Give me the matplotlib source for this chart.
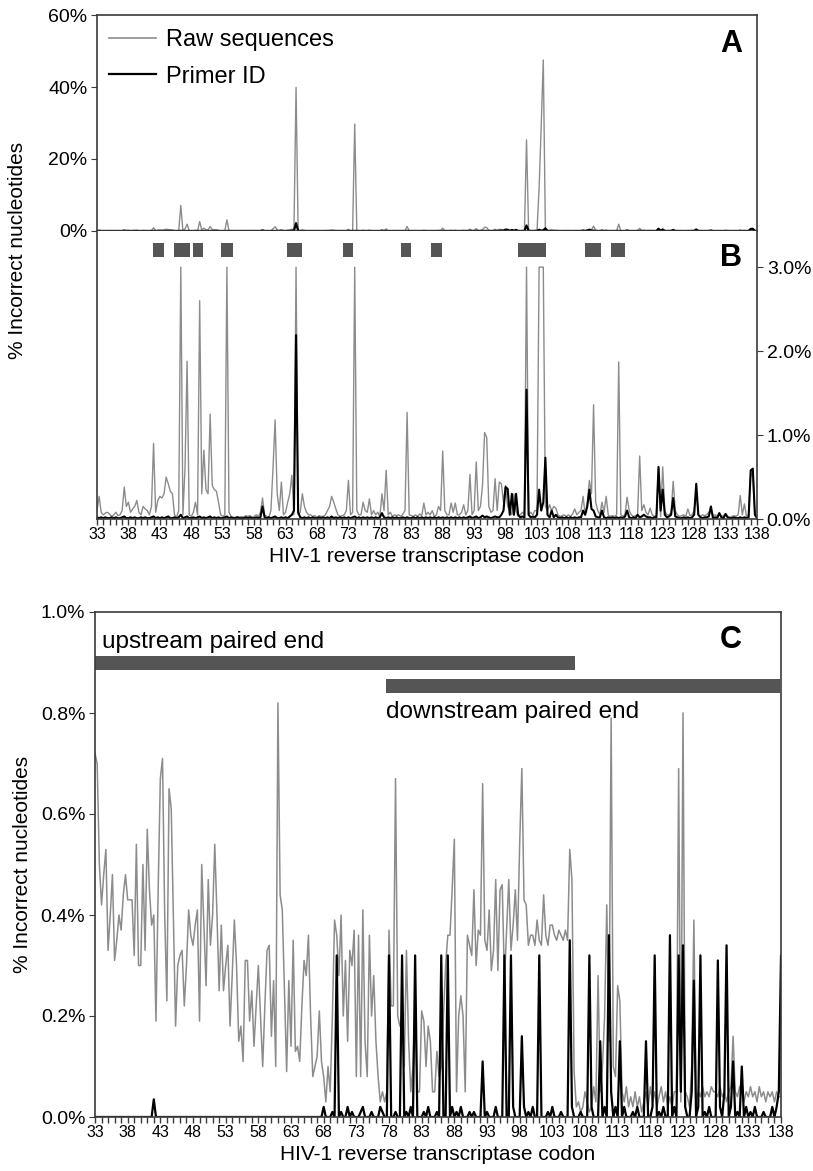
import matplotlib

matplotlib.use("Agg")
import matplotlib.pyplot as plt
import numpy as np
from matplotlib.lines import Line2D

plt.rcParams["font.family"] = ["Liberation Sans", "DejaVu Sans"]

FIRST_CODON = 33
LAST_CODON = 138
CODONS = list(range(FIRST_CODON, LAST_CODON + 1))
LABEL_CODONS = list(range(33, 139, 5))

# panels A/B: % incorrect nucleotides per nucleotide position (3 per codon, codons 33..138)
RAW_AB = [
    0.10, 0.27, 0.08, 0.05, 0.07, 0.08, 0.06, 0.03, 0.05, 0.08, 0.04, 0.05, 0.10, 0.38, 0.15,  # 33
    0.20, 0.08, 0.12, 0.15, 0.22, 0.08, 0.05, 0.15, 0.12, 0.10, 0.05, 0.15, 0.90, 0.08, 0.22,  # 38
    0.27, 0.25, 0.30, 0.50, 0.42, 0.33, 0.30, 0.05, 0.02, 0.10, 7.10, 0.05, 0.60, 1.88, 0.05,  # 43
    0.03, 0.08, 0.20, 0.05, 2.60, 0.30, 0.82, 0.35, 0.30, 1.25, 0.40, 0.35, 0.33, 0.20, 0.05,  # 48
    0.03, 0.05, 3.10, 0.08, 0.03, 0.02, 0.02, 0.03, 0.02, 0.03, 0.02, 0.04, 0.03, 0.04, 0.02,  # 53
    0.03, 0.05, 0.03, 0.08, 0.25, 0.05, 0.03, 0.02, 0.10, 0.60, 1.18, 0.30, 0.10, 0.44, 0.05,  # 58
    0.08, 0.20, 0.30, 0.52, 0.05, 39.90, 0.05, 0.08, 0.30, 0.15, 0.08, 0.05, 0.05, 0.03, 0.04,  # 63
    0.02, 0.04, 0.03, 0.03, 0.05, 0.10, 0.15, 0.27, 0.20, 0.12, 0.05, 0.03, 0.04, 0.05, 0.10,  # 68
    0.46, 0.05, 0.08, 29.70, 0.10, 0.05, 0.05, 0.20, 0.10, 0.08, 0.24, 0.05, 0.10, 0.05, 0.08,  # 73
    0.03, 0.30, 0.10, 0.58, 0.05, 0.08, 0.03, 0.05, 0.04, 0.05, 0.03, 0.06, 0.10, 1.27, 0.05,  # 78
    0.04, 0.03, 0.05, 0.03, 0.06, 0.04, 0.19, 0.05, 0.08, 0.05, 0.10, 0.03, 0.05, 0.15, 0.10,  # 83
    0.81, 0.10, 0.05, 0.05, 0.19, 0.08, 0.19, 0.05, 0.05, 0.08, 0.17, 0.05, 0.10, 0.53, 0.05,  # 88
    0.10, 0.68, 0.10, 0.15, 0.40, 1.03, 0.97, 0.15, 0.08, 0.10, 0.48, 0.10, 0.44, 0.42, 0.20,  # 93
    0.40, 0.15, 0.10, 0.05, 0.30, 0.10, 0.03, 0.05, 0.08, 0.05, 25.30, 0.05, 0.08, 0.05, 0.10,  # 98
    0.10, 11.90, 29.00, 47.50, 0.15, 0.10, 0.17, 0.10, 0.15, 0.13, 0.05, 0.03, 0.04, 0.05, 0.03,  # 103
    0.05, 0.03, 0.06, 0.12, 0.05, 0.08, 0.10, 0.27, 0.05, 0.20, 0.46, 0.30, 1.36, 0.20, 0.10,  # 108
    0.05, 0.20, 0.08, 0.27, 0.05, 0.03, 0.04, 0.03, 0.05, 1.87, 0.05, 0.03, 0.05, 0.26, 0.10,  # 113
    0.05, 0.03, 0.04, 0.05, 0.75, 0.10, 0.17, 0.08, 0.05, 0.13, 0.05, 0.03, 0.05, 0.62, 0.03,  # 118
    0.62, 0.10, 0.05, 0.05, 0.08, 0.45, 0.10, 0.05, 0.03, 0.04, 0.05, 0.03, 0.12, 0.04, 0.05,  # 123
    0.10, 0.35, 0.05, 0.03, 0.05, 0.04, 0.05, 0.08, 0.10, 0.04, 0.05, 0.03, 0.07, 0.03, 0.04,  # 128
    0.06, 0.03, 0.02, 0.03, 0.04, 0.03, 0.05, 0.28, 0.05, 0.18, 0.03, 0.05, 0.55, 0.50, 0.05,  # 133
    0.02, 0.03, 0.02,  # 138
]
PID_AB = [
    0.02, 0.01, 0.02, 0.01, 0.02, 0.01, 0.01, 0.02, 0.01, 0.02, 0.01, 0.01, 0.02, 0.03, 0.01,  # 33
    0.01, 0.02, 0.01, 0.02, 0.01, 0.01, 0.02, 0.01, 0.02, 0.01, 0.01, 0.02, 0.03, 0.01, 0.02,  # 38
    0.01, 0.02, 0.01, 0.02, 0.03, 0.01, 0.01, 0.02, 0.01, 0.02, 0.05, 0.01, 0.02, 0.03, 0.01,  # 43
    0.01, 0.02, 0.01, 0.02, 0.03, 0.01, 0.02, 0.01, 0.02, 0.03, 0.01, 0.02, 0.01, 0.02, 0.01,  # 48
    0.01, 0.02, 0.03, 0.01, 0.02, 0.01, 0.01, 0.02, 0.01, 0.01, 0.01, 0.02, 0.01, 0.02, 0.01,  # 53
    0.01, 0.02, 0.01, 0.02, 0.15, 0.02, 0.01, 0.02, 0.01, 0.02, 0.03, 0.01, 0.01, 0.02, 0.01,  # 58
    0.02, 0.01, 0.03, 0.05, 0.10, 2.19, 0.08, 0.02, 0.01, 0.02, 0.01, 0.02, 0.01, 0.02, 0.01,  # 63
    0.01, 0.02, 0.01, 0.02, 0.01, 0.02, 0.01, 0.03, 0.01, 0.02, 0.01, 0.02, 0.01, 0.02, 0.01,  # 68
    0.02, 0.01, 0.02, 0.03, 0.01, 0.02, 0.01, 0.02, 0.01, 0.02, 0.01, 0.02, 0.01, 0.02, 0.01,  # 73
    0.02, 0.07, 0.02, 0.01, 0.02, 0.01, 0.02, 0.01, 0.02, 0.01, 0.01, 0.02, 0.01, 0.02, 0.01,  # 78
    0.01, 0.02, 0.01, 0.02, 0.01, 0.02, 0.01, 0.02, 0.01, 0.02, 0.01, 0.02, 0.01, 0.02, 0.01,  # 83
    0.02, 0.01, 0.02, 0.01, 0.02, 0.01, 0.02, 0.01, 0.02, 0.01, 0.02, 0.01, 0.02, 0.03, 0.01,  # 88
    0.02, 0.03, 0.01, 0.02, 0.04, 0.02, 0.03, 0.02, 0.01, 0.02, 0.03, 0.02, 0.02, 0.05, 0.10,  # 93
    0.38, 0.36, 0.05, 0.30, 0.05, 0.30, 0.05, 0.02, 0.03, 0.02, 1.54, 0.05, 0.02, 0.03, 0.02,  # 98
    0.05, 0.35, 0.10, 0.20, 0.73, 0.05, 0.02, 0.10, 0.02, 0.05, 0.02, 0.01, 0.02, 0.01, 0.02,  # 103
    0.01, 0.02, 0.01, 0.02, 0.01, 0.02, 0.02, 0.10, 0.05, 0.15, 0.35, 0.12, 0.10, 0.03, 0.02,  # 108
    0.02, 0.10, 0.02, 0.01, 0.02, 0.01, 0.02, 0.01, 0.02, 0.01, 0.02, 0.01, 0.03, 0.10, 0.02,  # 113
    0.01, 0.02, 0.01, 0.05, 0.02, 0.03, 0.05, 0.03, 0.02, 0.02, 0.01, 0.02, 0.02, 0.62, 0.10,  # 118
    0.35, 0.05, 0.02, 0.03, 0.05, 0.25, 0.03, 0.02, 0.01, 0.01, 0.02, 0.01, 0.02, 0.01, 0.02,  # 123
    0.05, 0.42, 0.05, 0.02, 0.01, 0.02, 0.02, 0.03, 0.15, 0.01, 0.02, 0.01, 0.07, 0.02, 0.01,  # 128
    0.06, 0.02, 0.01, 0.01, 0.02, 0.01, 0.01, 0.02, 0.01, 0.02, 0.01, 0.02, 0.58, 0.60, 0.05,  # 133
    0.01, 0.01, 0.01,  # 138
]

# panel C
RAW_C = [
    0.72, 0.70, 0.50, 0.42, 0.48, 0.53, 0.33, 0.40, 0.48, 0.31, 0.35, 0.40, 0.37, 0.44, 0.48,  # 33
    0.43, 0.43, 0.43, 0.32, 0.54, 0.30, 0.30, 0.50, 0.33, 0.57, 0.45, 0.38, 0.40, 0.19, 0.45,  # 38
    0.67, 0.71, 0.40, 0.23, 0.65, 0.61, 0.40, 0.18, 0.30, 0.32, 0.33, 0.22, 0.30, 0.41, 0.36,  # 43
    0.34, 0.38, 0.41, 0.19, 0.50, 0.38, 0.26, 0.47, 0.34, 0.40, 0.54, 0.40, 0.25, 0.38, 0.25,  # 48
    0.30, 0.34, 0.18, 0.28, 0.39, 0.30, 0.15, 0.18, 0.11, 0.31, 0.31, 0.19, 0.25, 0.14, 0.22,  # 53
    0.30, 0.20, 0.10, 0.22, 0.33, 0.34, 0.16, 0.27, 0.10, 0.82, 0.44, 0.41, 0.25, 0.09, 0.27,  # 58
    0.14, 0.35, 0.13, 0.14, 0.11, 0.22, 0.31, 0.28, 0.36, 0.20, 0.08, 0.10, 0.12, 0.21, 0.11,  # 63
    0.08, 0.03, 0.10, 0.05, 0.20, 0.39, 0.36, 0.28, 0.40, 0.20, 0.31, 0.15, 0.33, 0.30, 0.37,  # 68
    0.08, 0.36, 0.08, 0.41, 0.15, 0.08, 0.36, 0.20, 0.28, 0.15, 0.08, 0.03, 0.05, 0.03, 0.05,  # 73
    0.37, 0.22, 0.22, 0.67, 0.20, 0.18, 0.18, 0.10, 0.33, 0.15, 0.05, 0.10, 0.23, 0.05, 0.05,  # 78
    0.21, 0.19, 0.10, 0.18, 0.15, 0.05, 0.05, 0.13, 0.08, 0.10, 0.20, 0.30, 0.36, 0.36, 0.45,  # 83
    0.55, 0.05, 0.20, 0.24, 0.20, 0.05, 0.36, 0.34, 0.32, 0.45, 0.30, 0.37, 0.36, 0.66, 0.35,  # 88
    0.33, 0.41, 0.29, 0.33, 0.47, 0.29, 0.45, 0.46, 0.27, 0.37, 0.47, 0.33, 0.38, 0.45, 0.35,  # 93
    0.54, 0.69, 0.43, 0.42, 0.34, 0.36, 0.36, 0.34, 0.39, 0.35, 0.34, 0.44, 0.36, 0.34, 0.38,  # 98
    0.38, 0.36, 0.35, 0.37, 0.36, 0.35, 0.37, 0.35, 0.53, 0.47, 0.09, 0.02, 0.03, 0.01, 0.02,  # 103
    0.05, 0.03, 0.01, 0.02, 0.06, 0.03, 0.28, 0.05, 0.10, 0.20, 0.42, 0.15, 0.79, 0.10, 0.08,  # 108
    0.26, 0.23, 0.05, 0.03, 0.06, 0.02, 0.04, 0.02, 0.05, 0.02, 0.04, 0.01, 0.03, 0.05, 0.02,  # 113
    0.06, 0.03, 0.05, 0.02, 0.04, 0.06, 0.03, 0.05, 0.02, 0.04, 0.02, 0.05, 0.05, 0.69, 0.03,  # 118
    0.80, 0.05, 0.04, 0.02, 0.10, 0.39, 0.03, 0.05, 0.04, 0.06, 0.04, 0.05, 0.04, 0.06, 0.05,  # 123
    0.05, 0.04, 0.06, 0.04, 0.05, 0.03, 0.05, 0.06, 0.16, 0.05, 0.04, 0.06, 0.05, 0.03, 0.05,  # 128
    0.04, 0.06, 0.04, 0.05, 0.03, 0.06, 0.04, 0.05, 0.03, 0.05, 0.04, 0.05, 0.03, 0.05, 0.04,  # 133
    0.04, 0.05, 0.04,  # 138
]
PID_C = [
    0, 0, 0, 0, 0, 0, 0, 0, 0, 0, 0, 0, 0, 0, 0,  # 33
    0, 0, 0, 0, 0, 0, 0, 0, 0, 0, 0, 0, 0.035, 0, 0,  # 38
    0, 0, 0, 0, 0, 0, 0, 0, 0, 0, 0, 0, 0, 0, 0,  # 43
    0, 0, 0, 0, 0, 0, 0, 0, 0, 0, 0, 0, 0, 0, 0,  # 48
    0, 0, 0, 0, 0, 0, 0, 0, 0, 0, 0, 0, 0, 0, 0,  # 53
    0, 0, 0, 0, 0, 0, 0, 0, 0, 0, 0, 0, 0, 0, 0,  # 58
    0, 0, 0, 0, 0, 0, 0, 0, 0, 0, 0, 0, 0, 0, 0,  # 63
    0.02, 0, 0, 0, 0.01, 0, 0.32, 0, 0.01, 0, 0, 0.02, 0, 0.01, 0,  # 68
    0, 0, 0.01, 0.02, 0, 0, 0, 0.01, 0, 0, 0, 0.02, 0.01, 0, 0,  # 73
    0.32, 0, 0, 0.01, 0, 0, 0.32, 0, 0.01, 0, 0.02, 0, 0.32, 0, 0,  # 78
    0, 0.01, 0, 0.02, 0, 0, 0, 0.01, 0, 0.32, 0, 0, 0.32, 0, 0.02,  # 83
    0, 0.01, 0, 0.02, 0, 0, 0, 0.01, 0, 0.01, 0, 0, 0, 0.11, 0,  # 88
    0.01, 0, 0, 0, 0.02, 0, 0, 0, 0.32, 0, 0, 0.32, 0.02, 0, 0,  # 93
    0, 0.16, 0.02, 0, 0.01, 0, 0.02, 0, 0, 0.32, 0, 0, 0, 0.01, 0,  # 98
    0.02, 0, 0, 0, 0.01, 0, 0, 0, 0.35, 0.02, 0, 0, 0, 0.01, 0,  # 103
    0, 0, 0.32, 0.02, 0, 0, 0, 0.15, 0, 0.02, 0, 0.36, 0.05, 0, 0.02,  # 108
    0, 0.15, 0, 0.02, 0, 0, 0, 0.01, 0, 0.02, 0, 0, 0, 0.15, 0,  # 113
    0, 0.02, 0.32, 0, 0.01, 0, 0.02, 0, 0, 0.36, 0, 0.02, 0, 0.32, 0.05,  # 118
    0.34, 0.02, 0, 0, 0.05, 0.27, 0, 0.02, 0.32, 0, 0.01, 0, 0.02, 0, 0,  # 123
    0, 0.31, 0.02, 0, 0.05, 0.34, 0, 0.02, 0.11, 0, 0.01, 0, 0.10, 0, 0.02,  # 128
    0, 0.01, 0, 0.02, 0, 0, 0, 0.01, 0, 0, 0, 0.02, 0, 0.02, 0.05,  # 133
    0.32, 0.32, 0,  # 138
]

# grey blocks above panel B (codon spans)
B_BLOCK_STARTS = [41.9, 45.3, 48.2, 52.8, 63.2, 72.1, 81.3, 86.2, 99.9, 110.7, 114.8]
B_BLOCK_ENDS = [43.6, 47.8, 49.8, 54.6, 65.6, 73.7, 82.9, 87.9, 104.4, 113.2, 117.0]
B_CLIP = 3.0

PAIRED_NAMES = ["upstream paired end", "downstream paired end"]
PAIRED_STARTS = [33.0, 77.5]
PAIRED_ENDS = [106.5, 137.9]
PAIRED_LEVELS = [0.899, 0.8535]

GRAY = "#8c8c8c"
BLOCK = "#555555"
SPINE = "#3a3a3a"

W, H = 813, 1171


def box(left, top, right, bottom):
    return [left / W, 1 - bottom / H, (right - left) / W, (bottom - top) / H]


def nucleotide_positions(values):
    return FIRST_CODON + np.arange(len(values)) / 3


def style_spines(ax):
    for spine in ax.spines.values():
        spine.set_color(SPINE)
        spine.set_linewidth(1.2)


def codon_axis(ax):
    ax.set_xlim(FIRST_CODON, LAST_CODON)
    ax.set_xticks(LABEL_CODONS)
    ax.set_xticklabels([str(c) for c in LABEL_CODONS])
    ax.set_xticks(CODONS, minor=True)
    ax.tick_params(axis="x", which="both", direction="out", length=4, width=1,
                   color=SPINE, labelsize=11.5, pad=2)
    ax.set_xlabel("HIV-1 reverse transcriptase codon", fontsize=15, labelpad=3)


fig = plt.figure(figsize=(W / 100, H / 100), dpi=100)
ax_a = fig.add_axes(box(97, 15, 757, 231))
ax_b = fig.add_axes(box(97, 231, 757, 519))
ax_c = fig.add_axes(box(95, 612, 781, 1117))

x_ab = nucleotide_positions(RAW_AB)
x_c = nucleotide_positions(RAW_C)

# panel A
ax_a.plot(x_ab, RAW_AB, color=GRAY, lw=1.0)
ax_a.plot(x_ab, PID_AB, color="black", lw=1.6)
ax_a.set_xlim(FIRST_CODON, LAST_CODON)
ax_a.set_ylim(0, 60)
ax_a.set_yticks([0, 20, 40, 60])
ax_a.set_yticklabels(["0%", "20%", "40%", "60%"])
ax_a.set_xticks([])
ax_a.tick_params(axis="y", direction="out", length=4, color=SPINE, labelsize=14, pad=3)
style_spines(ax_a)
handles = [Line2D([], [], color=GRAY, lw=1.2), Line2D([], [], color="black", lw=1.6)]
ax_a.legend(handles, ["Raw sequences", "Primer ID"], loc="upper left",
            bbox_to_anchor=(0.018, 0.935), frameon=False, fontsize=17,
            handlelength=2.0, handletextpad=0.42, labelspacing=0.62,
            borderaxespad=0, borderpad=0)
ax_a.text(0.977, 0.935, "A", transform=ax_a.transAxes, ha="right", va="top",
          fontsize=22, fontweight="bold")

# panel B (same data, zoomed, raw clipped at 3%)
ax_b.plot(x_ab, np.minimum(RAW_AB, B_CLIP), color=GRAY, lw=1.0)
ax_b.plot(x_ab, PID_AB, color="black", lw=1.5)
ax_b.bar(B_BLOCK_STARTS, 0.17, width=np.subtract(B_BLOCK_ENDS, B_BLOCK_STARTS),
         bottom=3.12, align="edge", color=BLOCK, lw=0)
ax_b.set_ylim(0, 3.43)
ax_b.yaxis.tick_right()
ax_b.set_yticks([0, 1, 2, 3])
ax_b.set_yticklabels(["0.0%", "1.0%", "2.0%", "3.0%"])
ax_b.tick_params(axis="y", direction="out", length=4, color=SPINE, labelsize=14, pad=3)
codon_axis(ax_b)
style_spines(ax_b)
ax_b.spines["top"].set_visible(False)
ax_b.text(0.977, 0.958, "B", transform=ax_b.transAxes, ha="right", va="top",
          fontsize=22, fontweight="bold")

fig.text(18 / W, 1 - 250 / H, "% Incorrect nucleotides", rotation=90,
         ha="center", va="center", fontsize=15)

# panel C
ax_c.plot(x_c, RAW_C, color=GRAY, lw=1.1)
ax_c.plot(x_c, PID_C, color="black", lw=1.6)
ax_c.barh(PAIRED_LEVELS, np.subtract(PAIRED_ENDS, PAIRED_STARTS), left=PAIRED_STARTS,
          height=0.026, color=BLOCK, lw=0)
ax_c.text(34.0, 0.929, PAIRED_NAMES[0], fontsize=17.5, va="baseline", ha="left")
ax_c.text(77.5, 0.790, PAIRED_NAMES[1], fontsize=17.5, va="baseline", ha="left")
ax_c.set_ylim(0, 1.0)
ticks_c = [0, 0.2, 0.4, 0.6, 0.8, 1.0]
ax_c.set_yticks(ticks_c)
ax_c.set_yticklabels([f"{v:.1f}%" for v in ticks_c])
ax_c.tick_params(axis="y", direction="out", length=4, color=SPINE, labelsize=14, pad=3)
codon_axis(ax_c)
ax_c.set_ylabel("% Incorrect nucleotides", fontsize=15, labelpad=6)
style_spines(ax_c)
ax_c.text(0.943, 0.974, "C", transform=ax_c.transAxes, ha="right", va="top",
          fontsize=22, fontweight="bold")

fig.savefig("out.png", dpi=100)
plt.close(fig)
